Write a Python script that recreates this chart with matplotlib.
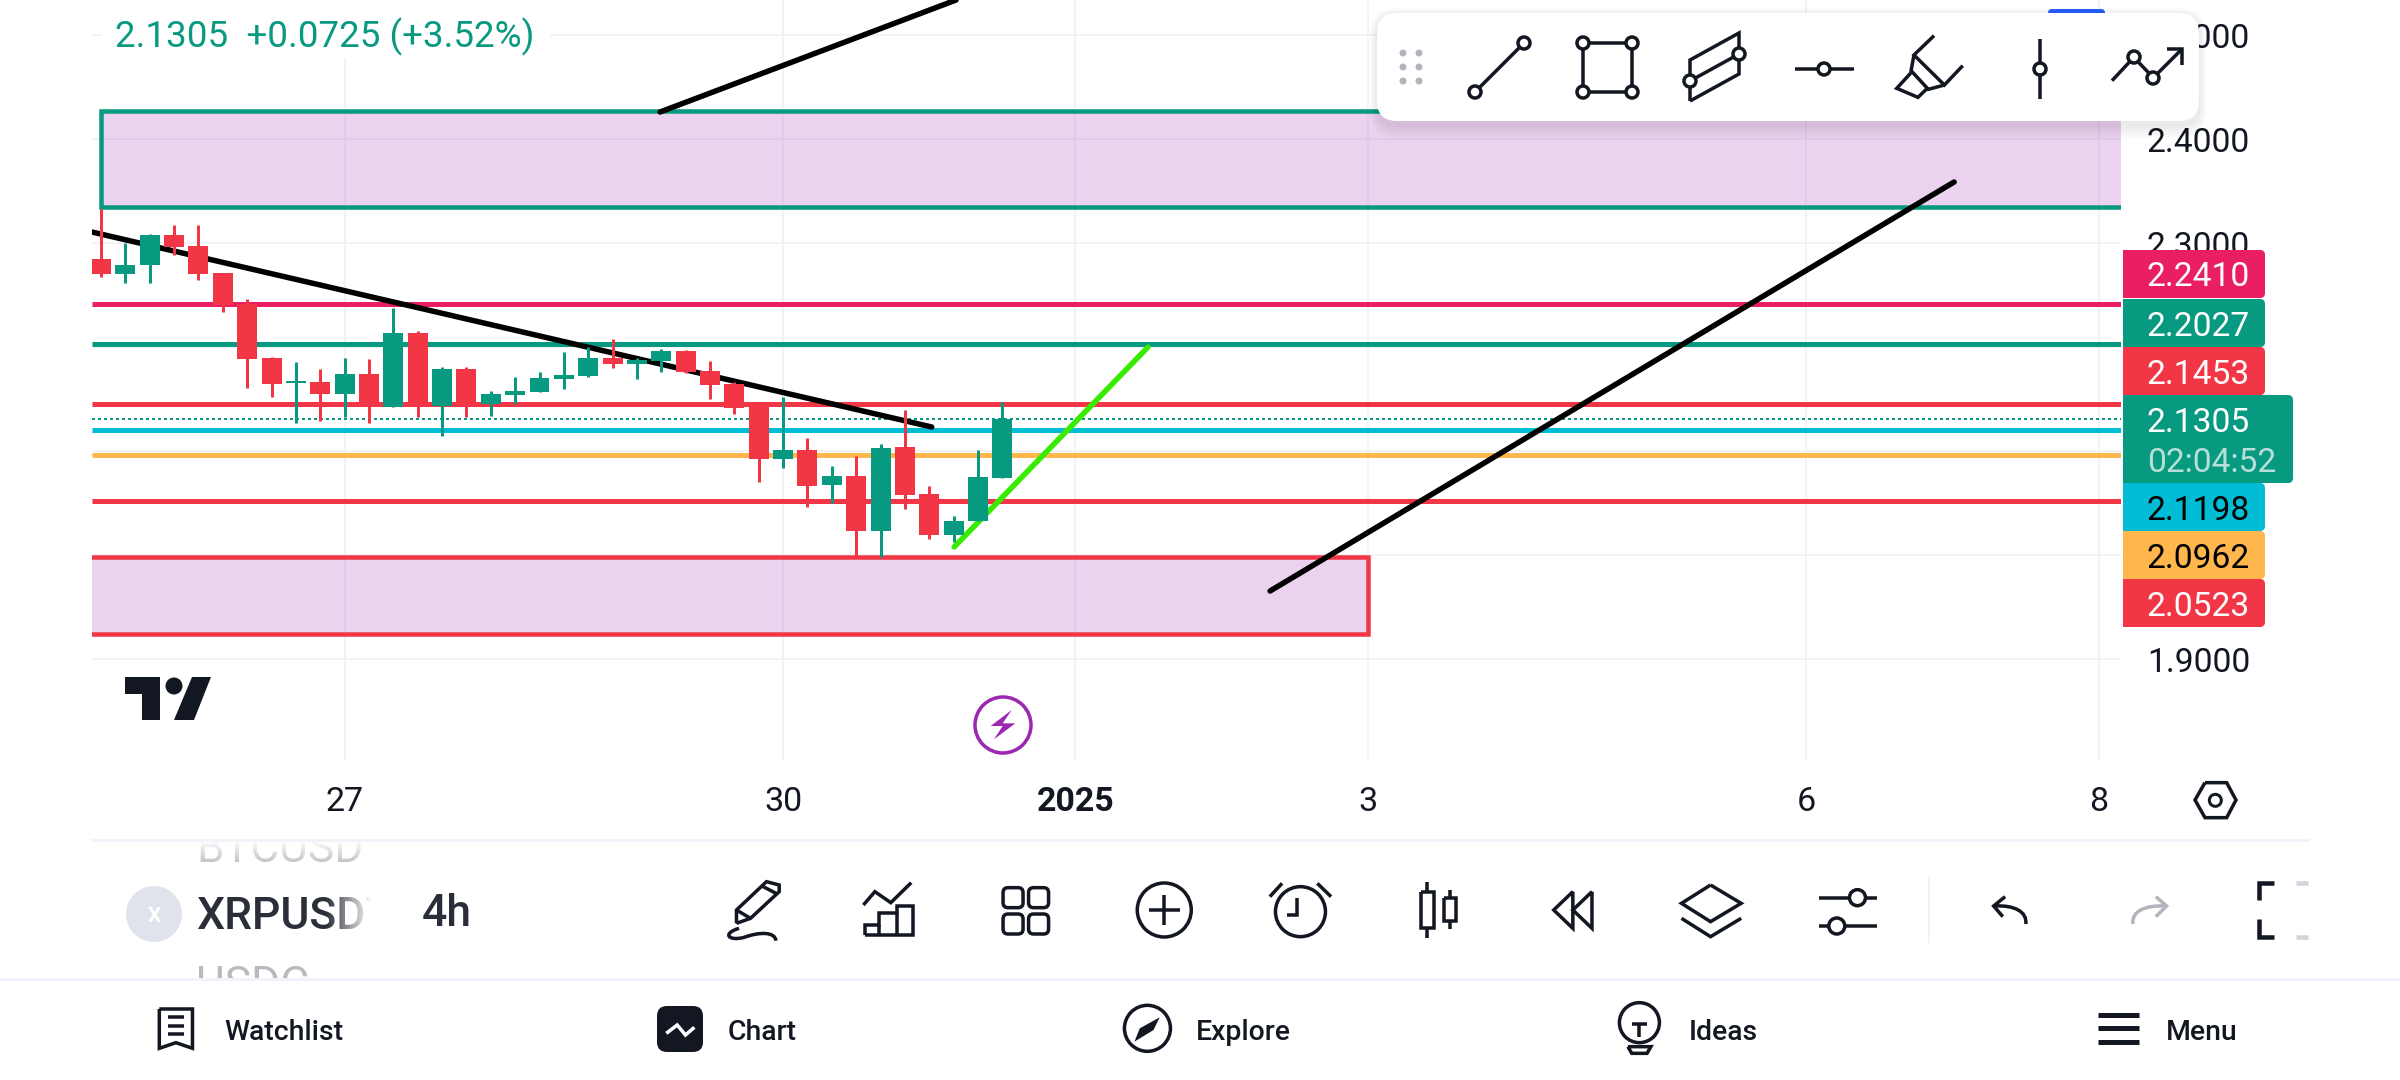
import numpy as np
import matplotlib
matplotlib.use("Agg")
import matplotlib.pyplot as plt
from matplotlib.patches import Circle, FancyBboxPatch, PathPatch, Polygon, Rectangle
from matplotlib.path import Path

plt.rcParams['font.family'] = ['Roboto', 'DejaVu Sans']

# 4h candles
opens = [2.2846, 2.2702, 2.2789, 2.3077, 2.2971, 2.2712, 2.2414, 2.1894, 2.1654, 2.1664,
         2.1548, 2.1740, 2.1423, 2.2135, 2.1433, 2.1788, 2.1452, 2.1538, 2.1567, 2.1692,
         2.1721, 2.1894, 2.1836, 2.1865, 2.1961, 2.1769, 2.1644, 2.1433, 2.0923, 2.1010,
         2.0673, 2.0760, 2.0231, 2.1038, 2.0587, 2.0192, 2.0327, 2.0740]
highs = [2.3327, 2.3000, 2.3087, 2.3173, 2.3173, 2.2712, 2.2462, 2.1904, 2.1856, 2.1788,
         2.1894, 2.1885, 2.2375, 2.2154, 2.1808, 2.1808, 2.1577, 2.1712, 2.1760, 2.1952,
         2.2000, 2.2077, 2.1894, 2.1981, 2.1971, 2.1865, 2.1663, 2.1433, 2.1519, 2.1125,
         2.0856, 2.0952, 2.1067, 2.1394, 2.0663, 2.0375, 2.1010, 2.1471]
lows = [2.2673, 2.2615, 2.2615, 2.2885, 2.2644, 2.2337, 2.1606, 2.1519, 2.1269, 2.1289,
        2.1327, 2.1269, 2.1423, 2.1327, 2.1144, 2.1327, 2.1337, 2.1452, 2.1567, 2.1596,
        2.1712, 2.1798, 2.1692, 2.1760, 2.1750, 2.1500, 2.1356, 2.0702, 2.0837, 2.0462,
        2.0500, 1.9990, 1.9980, 2.0442, 2.0154, 2.0125, 2.0327, 2.0740]
closes = [2.2702, 2.2789, 2.3077, 2.2962, 2.2702, 2.2404, 2.1885, 2.1644, 2.1673, 2.1548,
          2.1740, 2.1423, 2.2135, 2.1423, 2.1788, 2.1452, 2.1548, 2.1577, 2.1702, 2.1731,
          2.1894, 2.1836, 2.1875, 2.1961, 2.1760, 2.1635, 2.1413, 2.0923, 2.1010, 2.0663,
          2.0760, 2.0231, 2.1029, 2.0577, 2.0192, 2.0327, 2.0750, 2.1305]

price_ticks = [1.9, 2.0, 2.1, 2.2, 2.3, 2.4, 2.5]
# 2.0, 2.1 and 2.2 sit behind the price tags
price_labels = ['1.9000', '', '', '', '2.3000', '2.4000', '2.5000']
date_ticks = [10, 28, 40, 52, 70, 82]
date_labels = ['27', '30', '2025', '3', '6', '8']

# horizontal levels and their tags
level_prices = [2.2410, 2.2027, 2.1453, 2.1198, 2.0962, 2.0523]
level_colors = ['#e91e63', '#089981', '#f23645', '#00bcd4', '#ffb74d', '#f23645']
last_price = 2.1305

# (start bar, start price, end bar, end price)
trend_black = [(-0.37, 2.3106, 34.1, 2.1231),
               (22.95, 2.426, 35.1, 2.5337),
               (47.99, 1.9654, 76.07, 2.3587)]
trend_green = (35.02, 2.0077, 42.98, 2.2)

upper_zone = (0, 82.92, 2.3349, 2.4265)
lower_zone = (-0.37, 52.01, 1.9245, 1.9978)

UP = '#089981'
DOWN = '#f23645'
INK = '#131722'
GRID = '#f2f3f5'
PX = 0.72  # one pixel in points at dpi 100

fig = plt.figure(figsize=(24, 10.8), dpi=100)
ax = fig.add_axes([92 / 2400, 1 - 760 / 1080, (2121 - 92) / 2400, 760 / 1080])
ax.set_xlim(-0.37, 82.92)
ax.set_ylim(1.8029, 2.5337)
for s in ax.spines.values():
    s.set_visible(False)
ax.set_axisbelow(True)
ax.grid(True, color=GRID, lw=2 * PX)
ax.yaxis.tick_right()
ax.set_yticks(price_ticks)
ax.set_yticklabels(price_labels)
ax.tick_params(axis='y', length=0, pad=26 * PX, labelsize=24.2, labelcolor=INK)
ax.set_xticks(date_ticks)
ax.set_xticklabels(date_labels)
ax.tick_params(axis='x', length=0, pad=26 * PX, labelsize=24.5, labelcolor=INK)
ax.get_xticklabels()[2].set_fontweight('bold')

# zones
z = upper_zone
ax.add_patch(Rectangle((z[0], z[2]), z[1] - z[0], z[3] - z[2], fc='#9c27b0', alpha=0.2, lw=0, zorder=1))
ax.plot([z[1], z[0], z[0], z[1]], [z[3], z[3], z[2], z[2]], color=UP, lw=4.5 * PX, zorder=1.5,
        solid_joinstyle='miter')
z = lower_zone
ax.add_patch(Rectangle((z[0], z[2]), z[1] - z[0], z[3] - z[2], fc='#9c27b0', alpha=0.2, lw=0, zorder=1))
ax.plot([z[0], z[1], z[1], z[0]], [z[3], z[3], z[2], z[2]], color=DOWN, lw=4.5 * PX, zorder=1.5,
        solid_joinstyle='miter')

for p, c in zip(level_prices, level_colors):
    ax.axhline(p, color=c, lw=5 * PX, zorder=2, solid_capstyle='butt')
ax.axhline(last_price, color=UP, lw=2 * PX, ls=(0, (1.5, 1.5)), zorder=2)

for x0, y0, x1, y1 in trend_black:
    ax.plot([x0, x1], [y0, y1], color='black', lw=5.5 * PX, zorder=3, solid_capstyle='round')
ax.plot(trend_green[0::2], trend_green[1::2], color='#37ec00', lw=5.5 * PX, zorder=3, solid_capstyle='round')

# candles
bars = np.arange(len(opens))
o, h, l, c = map(np.array, (opens, highs, lows, closes))
colors = [UP if b >= a else DOWN for a, b in zip(o, c)]
ax.vlines(bars, l, h, colors=colors, lw=3 * PX, zorder=4)
ax.bar(bars, np.abs(c - o), bottom=np.minimum(o, c), width=0.82, color=colors, lw=0, zorder=5)

# everything around the chart is drawn in pixels on a full size overlay
ov = fig.add_axes([0, 0, 1, 1], zorder=10)
ov.patch.set_visible(False)
ov.axis('off')


def z3(x, y):
    return 1360 + x / 1.742, y / 3


def z5(x, y):
    return 100 + x / 1.568, 820 + y / 3


def z6(x, y):
    return 1100 + x / 1.307, 820 + y / 3


def z10(x, y):
    return 930 + x / 3, 670 + y / 3


def z11(x, y):
    return 2100 + x / 3, 760 + y / 3


def stroke(pts, conv=None, color=INK, lw=3.5, zorder=20):
    if conv:
        pts = [conv(*p) for p in pts]
    xs, ys = zip(*pts)
    ov.plot(xs, ys, color=color, lw=lw * PX, zorder=zorder, solid_joinstyle='miter', solid_capstyle='butt')


def curve(pts, conv=None, color=INK, lw=3.5, zorder=20):
    # start point, then three points per bezier piece
    if conv:
        pts = [conv(*p) for p in pts]
    codes = [Path.MOVETO] + [Path.CURVE4] * (len(pts) - 1)
    ov.add_patch(PathPatch(Path(pts, codes), fc='none', ec=color, lw=lw * PX, zorder=zorder))


def ring(x, y, r, lw=3.5, ec=INK, fc='white', zorder=21):
    ov.add_patch(Circle((x, y), r, fc=fc, ec=ec, lw=lw * PX, zorder=zorder))


def fill(pts, conv=None, color=INK, zorder=20):
    if conv:
        pts = [conv(*p) for p in pts]
    ov.add_patch(Polygon(pts, closed=True, fc=color, lw=0, zorder=zorder))


def box(x0, y0, x1, y1, color='white', zorder=6):
    ov.add_patch(Rectangle((x0, y0), x1 - x0, y1 - y0, fc=color, lw=0, zorder=zorder))


def fade(x0, y0, x1, y1, horizontal, reverse=False, zorder=8):
    n = 32
    a = np.linspace(0, 1, n)
    if reverse:
        a = a[::-1]
    img = np.ones((n, n, 4))
    img[..., 3] = a[None, :] if horizontal else a[:, None]
    ov.imshow(img, extent=(x0, x1, y1, y0), aspect='auto', interpolation='bilinear', zorder=zorder)


# legend text with its white halo
box(102, 0, 550, 58)
ov.text(115, 33, '2.1305  +0.0725 (+3.52%)', color=UP, fontsize=26.5, va='center_baseline', zorder=7)

# logo
fill([(125, 677), (160, 677), (160, 720), (142, 720), (142, 694), (125, 694)])
ring(174, 686, 8.5, lw=0, ec=INK, fc=INK)
fill([(192, 677), (211, 677), (194, 720), (174, 720)])

# lightning badge
ring(1003, 725, 28, lw=3.5, ec='#9c27b0', fc='none')
fill([(245, 120), (182, 168), (218, 168), (192, 208), (256, 160), (218, 160)], z10, '#9c27b0')

# price tags
tag_rows = [(250, 298, '2.2410', '#e91e63', 'white'),
            (299, 347, '2.2027', '#089981', 'white'),
            (347, 395, '2.1453', '#f23645', 'white'),
            (483, 531, '2.1198', '#00bcd4', 'black'),
            (531, 579, '2.0962', '#ffb74d', 'black'),
            (579, 627, '2.0523', '#f23645', 'white')]


def tag(y0, y1, x1, color):
    ov.add_patch(FancyBboxPatch((2128, y0 + 5), x1 - 2128 - 5, y1 - y0 - 10, boxstyle='round,pad=5', fc=color,
                                lw=0, zorder=12))
    box(2123, y0, 2135, y1, color, zorder=12)


for y0, y1, txt, col, tc in tag_rows:
    tag(y0, y1, 2265, col)
    ov.text(2147, (y0 + y1) / 2, txt, color=tc, fontsize=24.2, va='center_baseline', zorder=13)
tag(395, 483, 2293, UP)
ov.text(2147, 419, '2.1305', color='white', fontsize=24.2, va='center_baseline', zorder=13)
ov.text(2147, 460, '02:04:52', color='#b5dfd7', fontsize=24.2, va='center_baseline', zorder=13)

# hexagon next to the time axis
stroke([(315, 68), (380, 68), (408, 120), (380, 173), (315, 173), (285, 120), (315, 68)], z11)
ring(*z11(346, 121), 6, lw=3, fc='none')

# floating drawing toolbar
ov.add_patch(FancyBboxPatch((2052, 13), 49, 6, boxstyle='round,pad=4', fc='#2962ff', lw=0, zorder=14))
for k in range(7, 0, -1):
    ov.add_patch(FancyBboxPatch((1397, 33 + 2), 782, 70 + k, boxstyle=f'round,pad={20 + k}', fc='black',
                                alpha=0.012, lw=0, zorder=15))
ov.add_patch(FancyBboxPatch((1397, 33), 782, 68, boxstyle='round,pad=20', fc='white', lw=0, zorder=16))
for dx in (1403, 1419):
    for dy in (53, 67, 81):
        ring(dx, dy, 3.5, lw=0, ec='#b2b5be', fc='#b2b5be')
HANDLE = 6
stroke([(1475, 92), (1524, 43)])
ring(1475, 92, HANDLE)
ring(1524, 43, HANDLE)
stroke([(1583, 43), (1632, 43), (1632, 92), (1583, 92), (1583, 43)])
for hx, hy in ((1583, 43), (1632, 43), (1632, 92), (1583, 92)):
    ring(hx, hy, HANDLE)
stroke([(1690, 101), (1690, 60), (1739, 33), (1739, 74), (1690, 101)])
stroke([(1690, 81), (1739, 54)])
ring(1690, 81, HANDLE)
ring(1739, 54, HANDLE)
stroke([(1795, 69), (1854, 69)])
ring(1824, 69, HANDLE)
stroke([(1000, 107), (965, 165), (1018, 255), (1050, 197)], z3)
stroke([(965, 165), (960, 212), (990, 268), (1018, 255)], z3)
stroke([(960, 218), (935, 265), (972, 292), (990, 262)], z3)
stroke([(2040, 39), (2040, 99)])
ring(2040, 69, HANDLE)
stroke([(1310, 242), (1348, 172), (1382, 233), (1432, 147)], z3)
stroke([(1405, 147), (1432, 147), (1432, 195)], z3)
ring(2134, 57, HANDLE)
ring(2153, 78, HANDLE)

# lower panel: symbol wheel
box(0, 815, 2400, 1080, zorder=5)
ov.text(196, 862, 'BTCUSD', color='#b8babf', fontsize=32, va='baseline', zorder=6)
ov.text(196, 998, 'USDC', color='#b8babf', fontsize=32, va='baseline', zorder=6)
ov.text(196, 929, 'XRPUSDT', color='#2a2e39', fontsize=32, fontweight='medium', va='baseline', zorder=6)
fade(325, 880, 372, 945, True)
fade(190, 840, 380, 866, False, reverse=True)
box(372, 825, 415, 979, zorder=8)
box(0, 815, 2400, 840, zorder=9)
ring(154, 914, 28, lw=0, ec='#e0e3eb', fc='#e0e3eb', zorder=10)
ov.text(154, 914, 'X', color='white', fontsize=15, ha='center', va='center_baseline', fontweight='bold', zorder=11)
ov.text(422, 909, '4h', color='#2a2e39', fontsize=32, fontweight='medium', va='center_baseline', zorder=10)

ov.plot([92, 2308], [840, 840], color='#f0f3fa', lw=3 * PX, zorder=11)
box(0, 979, 2400, 1080, zorder=9)
ov.plot([0, 2400], [979, 979], color='#f0f3fa', lw=3 * PX, zorder=11)

# toolbar icons
stroke([(998, 310), (998, 270), (1045, 185), (1065, 195), (1065, 215), (1020, 295), (998, 310)], z5)
stroke([(998, 270), (1020, 295)], z5)
stroke([(1038, 198), (1062, 222)], z5)
curve([(1002, 325), (975, 340), (985, 365), (1010, 352), (1035, 335), (1058, 335), (1060, 362)], z5)
stroke([(1197, 255), (1215, 215), (1240, 248), (1272, 188)], z5)
stroke([(1200, 345), (1200, 315), (1222, 315), (1222, 280), (1250, 280), (1250, 258), (1275, 258), (1275, 345),
        (1200, 345)], z5)
stroke([(1222, 315), (1222, 345)], z5)
stroke([(1250, 280), (1250, 345)], z5)
for gx in (1416, 1456):
    for gy in (203, 282):
        x0, y0 = z5(gx, gy)
        ov.add_patch(FancyBboxPatch((x0 + 5, y0 + 5), 10, 10, boxstyle='round,pad=5', fc='white', ec=INK, lw=3.5 * PX,
                                    zorder=20))

ring(*z6(84, 270), 27, zorder=20)
stroke([(64, 270), (105, 270)], z6)
stroke([(84, 226), (84, 314)], z6)
ring(*z6(262, 275), 25, zorder=20)
stroke([(258, 235), (258, 285), (245, 285)], z6)
stroke([(222, 230), (238, 190)], z6)
stroke([(302, 230), (284, 190)], z6)
for cx, half, y0, y1, y2, y3 in ((428, 8, 185, 215, 325, 355), (457, 8, 210, 235, 302, 328)):
    stroke([(cx, y0), (cx, y1)], z6)
    stroke([(cx, y2), (cx, y3)], z6)
    stroke([(cx - half, y1), (cx + half, y1), (cx + half, y2), (cx - half, y2), (cx - half, y1)], z6)
stroke([(618, 215), (593, 270), (618, 325), (618, 215)], z6)
stroke([(643, 215), (618, 270), (643, 325), (643, 215)], z6)
stroke([(798, 195), (838, 250), (798, 305), (760, 250), (798, 195)], z6)
stroke([(760, 295), (798, 350), (838, 295)], z6)
stroke([(940, 233), (1015, 233)], z6)
ring(*z6(990, 233), 8, zorder=21)
stroke([(940, 318), (1015, 318)], z6)
ring(*z6(963, 318), 8, zorder=21)
stroke([(1084, 168), (1084, 370)], z6, color='#f0f3fa', lw=2)
curve([(1210, 312), (1212, 275), (1195, 255), (1170, 258)], z6)
stroke([(1183, 230), (1168, 258), (1180, 290)], z6)
curve([(1350, 312), (1348, 275), (1365, 255), (1392, 258)], z6, color='#b2b5be')
stroke([(1380, 230), (1394, 258), (1380, 290)], z6, color='#b2b5be')
stroke([(1535, 188), (1515, 188), (1515, 240)], z6, lw=4.5)
stroke([(1515, 298), (1515, 350), (1535, 350)], z6, lw=4.5)
stroke([(2296, 883), (2308, 883)], color='#d1d4dc', lw=4.5)
stroke([(2296, 937), (2308, 937)], color='#d1d4dc', lw=4.5)

# bottom navigation
nav_labels = ['Watchlist', 'Chart', 'Explore', 'Ideas', 'Menu']
nav_x = [224, 728, 1196, 1689, 2166]
for txt, nx in zip(nav_labels, nav_x):
    ov.text(nx, 1030, txt, color=INK, fontsize=20.4, fontweight='medium', va='center_baseline', zorder=20)

stroke([(93, 567), (145, 567), (145, 685), (119, 668), (93, 685), (93, 567)], z5)
for ly in (592, 617, 643):
    stroke([(107, ly), (131, ly)], z5)
ov.add_patch(FancyBboxPatch((667, 1016), 26, 26, boxstyle='round,pad=10', fc=INK, lw=0, zorder=20))
stroke([(888, 640), (905, 615), (918, 645), (932, 622)], z5, color='white', zorder=21)
ring(*z6(62, 625), 23, fc='none', zorder=20)
fill([(78, 592), (70, 630), (45, 665), (52, 625)], z6)
ring(*z6(705, 608), 20, fc='none', zorder=20)
stroke([(695, 612), (715, 612)], z6)
stroke([(705, 612), (705, 650)], z6)
stroke([(690, 680), (720, 680), (715, 700), (695, 700), (690, 680)], z6)
for ly in (585, 625, 665):
    stroke([(1305, ly), (1358, ly)], z6, lw=5)

ov.set_xlim(0, 2400)
ov.set_ylim(1080, 0)

fig.savefig('out.png', dpi=100, facecolor='white')
